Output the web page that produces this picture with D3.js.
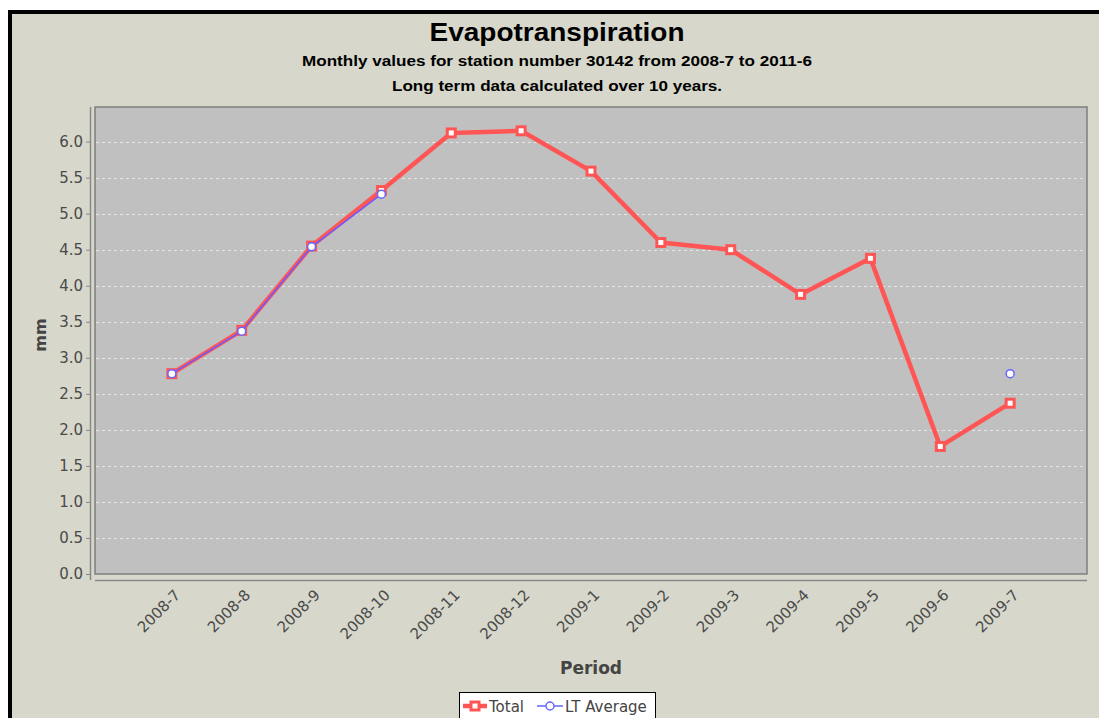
<!DOCTYPE html>
<html>
<head>
<meta charset="utf-8">
<script src="https://cdn.jsdelivr.net/npm/d3@7"></script>
<style>
  html, body { margin: 0; padding: 0; background: #fff; }
  svg { display: block; }
</style>
</head>
<body>
<div id="chart"></div>
<script>
    'use strict';

    // chart data
    var periods = ['2008-7', '2008-8', '2008-9', '2008-10', '2008-11', '2008-12',
        '2009-1', '2009-2', '2009-3', '2009-4', '2009-5', '2009-6', '2009-7'];
    var totalValues = [2.78, 3.38, 4.55, 5.32, 6.12, 6.15, 5.59, 4.60, 4.50, 3.88, 4.38, 1.77, 2.37];
    var ltAverageValues = [2.78, 3.37, 4.54, 5.27, null, null, null, null, null, null, null, null, 2.78];
    var yTicks = [0, 0.5, 1, 1.5, 2, 2.5, 3, 3.5, 4, 4.5, 5, 5.5, 6];

    var width = 1099, height = 718;
    var plot = { left: 95, top: 107, right: 1087, bottom: 574 };
    var labelFont = '"DejaVu Sans", sans-serif';

    var svg = d3.select('#chart').append('svg')
        .attr('width', width)
        .attr('height', height);

    // panel with black frame
    svg.append('rect')
        .attr('x', 10).attr('y', 12)
        .attr('width', 1100).attr('height', 720)
        .attr('fill', '#d7d8cb')
        .attr('stroke', '#000')
        .attr('stroke-width', 4);

    var x = d3.scalePoint()
        .domain(periods)
        .range([plot.left, plot.right])
        .padding(1.1);

    var y = d3.scaleLinear()
        .domain([0, 6.48])
        .range([plot.bottom, plot.top]);

    // titles
    svg.append('text')
        .attr('x', 557).attr('y', 41)
        .attr('text-anchor', 'middle')
        .attr('font-family', '"Liberation Sans", Arial, sans-serif')
        .attr('font-weight', 'bold')
        .attr('font-size', 26)
        .attr('textLength', 255)
        .attr('lengthAdjust', 'spacingAndGlyphs')
        .text('Evapotranspiration');
    svg.append('text')
        .attr('x', 557).attr('y', 66)
        .attr('text-anchor', 'middle')
        .attr('font-family', '"Liberation Sans", Arial, sans-serif')
        .attr('font-weight', 'bold')
        .attr('font-size', 14)
        .attr('textLength', 510)
        .attr('lengthAdjust', 'spacingAndGlyphs')
        .text('Monthly values for station number 30142 from 2008-7 to 2011-6');
    svg.append('text')
        .attr('x', 557).attr('y', 91)
        .attr('text-anchor', 'middle')
        .attr('font-family', '"Liberation Sans", Arial, sans-serif')
        .attr('font-weight', 'bold')
        .attr('font-size', 14)
        .attr('textLength', 330)
        .attr('lengthAdjust', 'spacingAndGlyphs')
        .text('Long term data calculated over 10 years.');

    // plot background
    svg.append('rect')
        .attr('x', plot.left).attr('y', plot.top)
        .attr('width', plot.right - plot.left)
        .attr('height', plot.bottom - plot.top)
        .attr('fill', '#c0c0c0')
        .attr('stroke', '#7f7f7f')
        .attr('stroke-width', 1.5);

    // gridlines
    svg.append('g').selectAll('line')
        .data(yTicks.filter(function(d) { return d > 0; }))
        .enter().append('line')
        .attr('x1', plot.left + 1).attr('x2', plot.right - 1)
        .attr('y1', function(d) { return Math.round(y(d)) + 0.5; })
        .attr('y2', function(d) { return Math.round(y(d)) + 0.5; })
        .attr('stroke', '#e6e6e6')
        .attr('stroke-width', 1)
        .attr('stroke-dasharray', '3,3');

    // y axis
    var yAxis = svg.append('g')
        .attr('transform', 'translate(90,0)')
        .call(d3.axisLeft(y).tickValues(yTicks).tickSize(4).tickPadding(3)
            .tickFormat(d3.format('.1f')));
    yAxis.select('.domain')
        .attr('d', 'M0.5,' + plot.top + 'V' + (plot.bottom + 6))
        .attr('stroke', '#888').attr('stroke-width', 1.5);
    yAxis.selectAll('.tick line').attr('stroke', '#888');
    yAxis.selectAll('.tick text')
        .attr('fill', '#4a4a4a')
        .attr('font-family', labelFont)
        .attr('font-size', 15);

    // x axis
    var xAxis = svg.append('g')
        .attr('transform', 'translate(0,580)')
        .call(d3.axisBottom(x).tickSize(0).tickPadding(0));
    xAxis.select('.domain')
        .attr('d', 'M' + plot.left + ',0.5H' + plot.right)
        .attr('stroke', '#888').attr('stroke-width', 1.5);
    xAxis.selectAll('.tick text')
        .attr('fill', '#4a4a4a')
        .attr('font-family', labelFont)
        .attr('font-size', 15)
        .attr('text-anchor', 'end')
        .attr('dy', 0)
        .attr('transform', 'translate(9,16) rotate(-45)');

    // axis titles
    svg.append('text')
        .attr('transform', 'translate(46,335) rotate(-90)')
        .attr('text-anchor', 'middle')
        .attr('font-family', labelFont)
        .attr('font-weight', 'bold')
        .attr('font-size', 16)
        .attr('fill', '#444')
        .text('mm');
    svg.append('text')
        .attr('x', 591).attr('y', 674)
        .attr('text-anchor', 'middle')
        .attr('font-family', labelFont)
        .attr('font-weight', 'bold')
        .attr('font-size', 17)
        .attr('fill', '#444')
        .text('Period');

    // series
    var line = d3.line()
        .defined(function(d) { return d !== null; })
        .x(function(d, i) { return x(periods[i]); })
        .y(function(d) { return y(d); });

    svg.append('path')
        .datum(totalValues)
        .attr('d', line)
        .attr('fill', 'none')
        .attr('stroke', '#ff5555')
        .attr('stroke-width', 4.5)
        .attr('stroke-linejoin', 'round');

    svg.append('g').selectAll('rect')
        .data(totalValues)
        .enter().append('rect')
        .attr('x', function(d, i) { return x(periods[i]) - 4; })
        .attr('y', function(d) { return y(d) - 4; })
        .attr('width', 8).attr('height', 8)
        .attr('fill', '#fff')
        .attr('stroke', '#ff5555')
        .attr('stroke-width', 3);

    svg.append('path')
        .datum(ltAverageValues)
        .attr('d', line)
        .attr('fill', 'none')
        .attr('stroke', '#6a5cff')
        .attr('stroke-width', 1.5);

    svg.append('g').selectAll('circle')
        .data(ltAverageValues.map(function(d, i) { return { v: d, p: periods[i] }; })
            .filter(function(d) { return d.v !== null; }))
        .enter().append('circle')
        .attr('cx', function(d) { return x(d.p); })
        .attr('cy', function(d) { return y(d.v); })
        .attr('r', 4)
        .attr('fill', '#fff')
        .attr('stroke', '#6666ff')
        .attr('stroke-width', 1.5);

    // legend
    var legend = svg.append('g');
    legend.append('rect')
        .attr('x', 459.5).attr('y', 692.5)
        .attr('width', 196).attr('height', 40)
        .attr('fill', '#fff')
        .attr('stroke', '#000')
        .attr('stroke-width', 1);
    legend.append('line')
        .attr('x1', 463).attr('x2', 487).attr('y1', 706).attr('y2', 706)
        .attr('stroke', '#ff5555').attr('stroke-width', 4.5);
    legend.append('rect')
        .attr('x', 471).attr('y', 702).attr('width', 8).attr('height', 8)
        .attr('fill', '#fff').attr('stroke', '#ff5555').attr('stroke-width', 3);
    legend.append('text')
        .attr('x', 489).attr('y', 712)
        .attr('font-family', labelFont)
        .attr('font-size', 15)
        .attr('fill', '#444')
        .text('Total');
    legend.append('line')
        .attr('x1', 537).attr('x2', 563).attr('y1', 706).attr('y2', 706)
        .attr('stroke', '#6666ff').attr('stroke-width', 1.5);
    legend.append('circle')
        .attr('cx', 550).attr('cy', 706).attr('r', 4)
        .attr('fill', '#fff').attr('stroke', '#6666ff').attr('stroke-width', 1.5);
    legend.append('text')
        .attr('x', 565).attr('y', 712)
        .attr('font-family', labelFont)
        .attr('font-size', 15)
        .attr('fill', '#444')
        .text('LT Average');
</script>
</body>
</html>
